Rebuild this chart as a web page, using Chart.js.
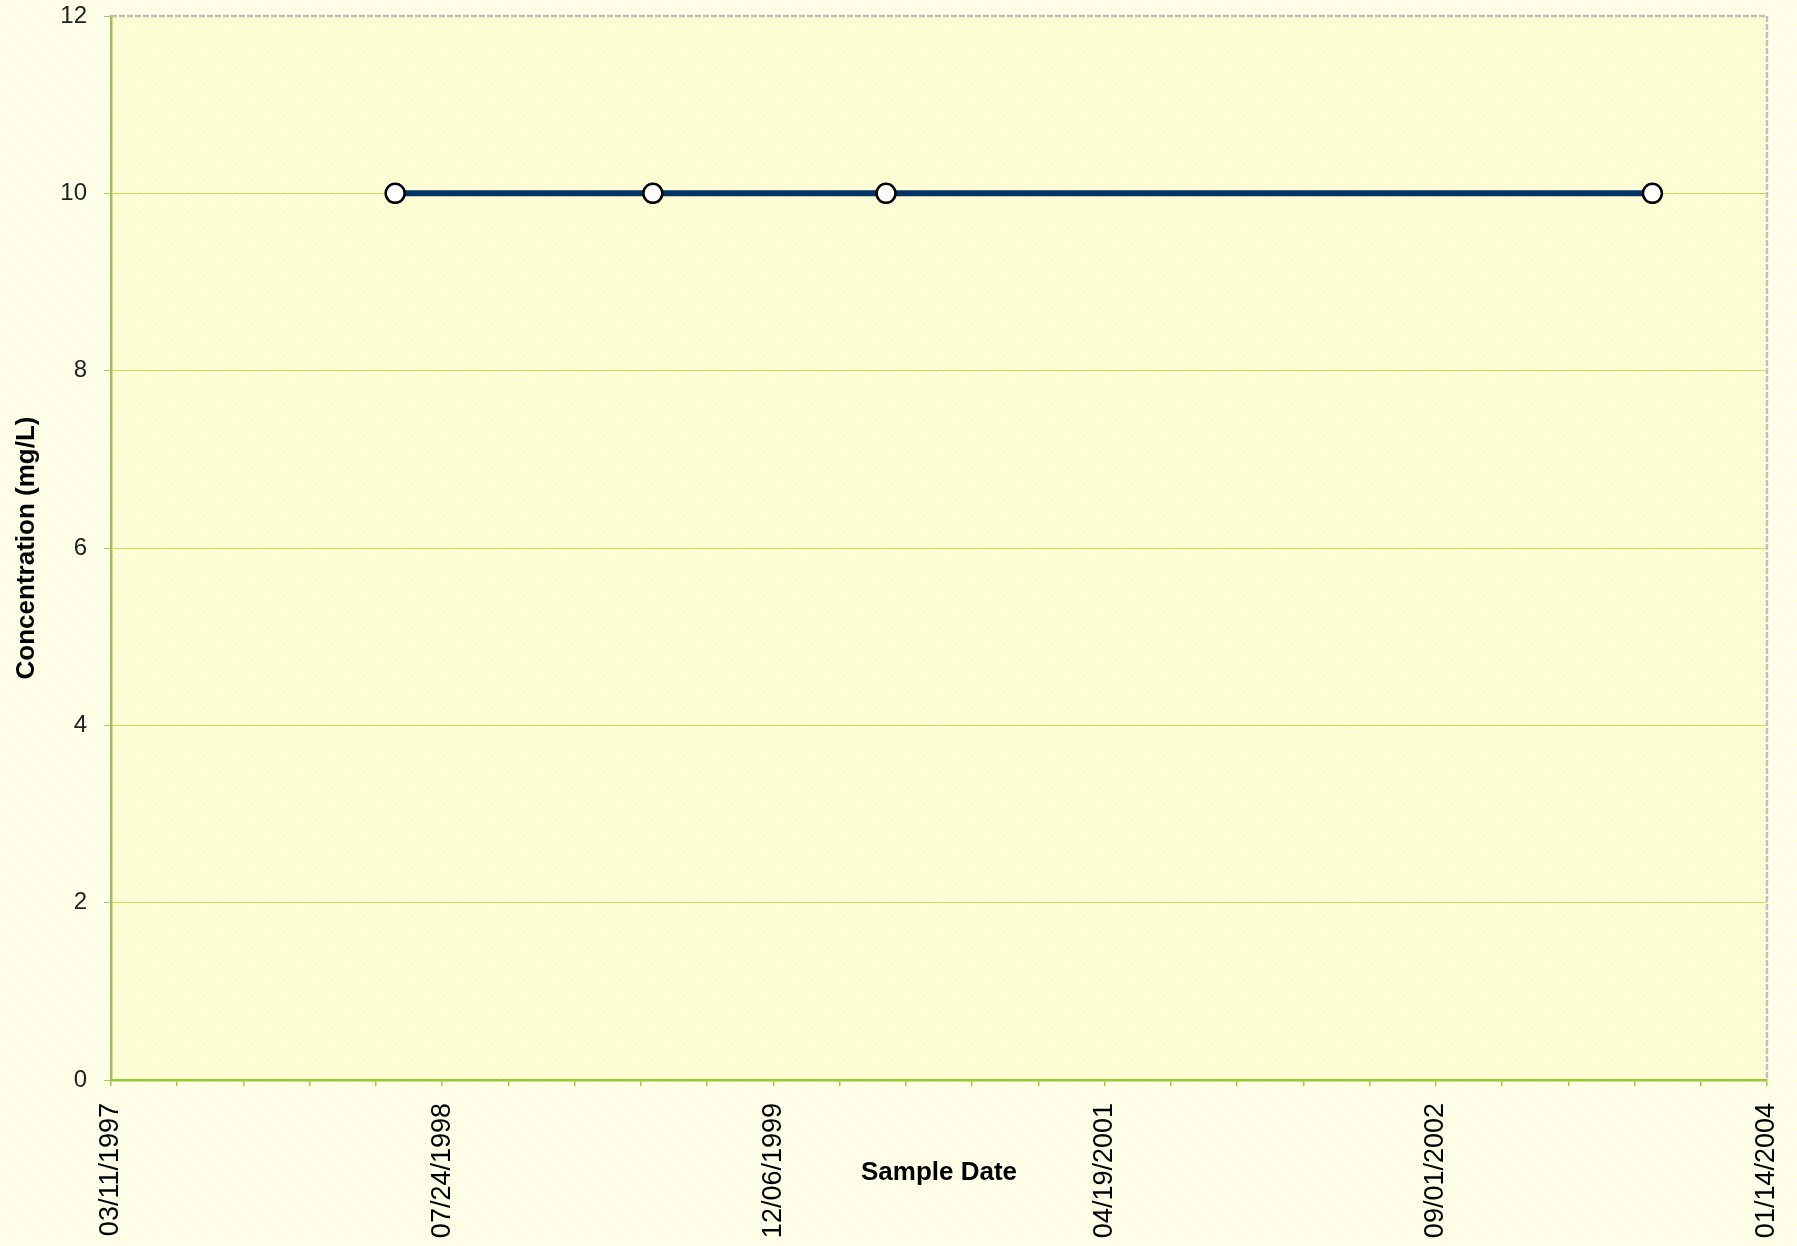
<!DOCTYPE html>
<html>
<head>
<meta charset="utf-8">
<script src="https://cdn.jsdelivr.net/npm/chart.js@4.4.1/dist/chart.umd.min.js"></script>
<style>
html,body{margin:0;padding:0;background:#FFFFF2;}
#wrap{width:1797px;height:1246px;position:relative;}
canvas{display:block;}
</style>
</head>
<body>
<div id="wrap"><canvas id="c" width="1797" height="1246"></canvas></div>
<script>
// ---- data ----
const sampleDates = ['05/14/1998', '06/07/1999', '05/24/2000', '07/25/2003'];
const concentrations = [10, 10, 10, 10];
const xTickLabels = ['03/11/1997', '07/24/1998', '12/06/1999', '04/19/2001', '09/01/2002', '01/14/2004'];
const yTicks = [0, 2, 4, 6, 8, 10, 12];
const xTitle = 'Sample Date';
const yTitle = 'Concentration (mg/L)';

function parseDate(s) {
  const [m, d, y] = s.split('/').map(Number);
  return Date.UTC(y, m - 1, d);
}
const origin = parseDate(xTickLabels[0]);
const dayMs = 86400000;
const toDays = s => Math.round((parseDate(s) - origin) / dayMs);
const xMax = toDays(xTickLabels[xTickLabels.length - 1]);
const majorStep = toDays(xTickLabels[1]);
const points = sampleDates.map((d, i) => ({x: toDays(d), y: concentrations[i]}));

function makePattern(base, stripe, n, w) {
  const c = document.createElement('canvas');
  c.width = n; c.height = n;
  const g = c.getContext('2d');
  const img = g.createImageData(n, n);
  for (let y = 0; y < n; y++) for (let x = 0; x < n; x++) {
    const k = ((x - y) % n + n) % n;
    const col = k < w ? stripe : base;
    const i = (y * n + x) * 4;
    img.data[i] = col[0]; img.data[i + 1] = col[1]; img.data[i + 2] = col[2]; img.data[i + 3] = 255;
  }
  g.putImageData(img, 0, 0);
  return c;
}

const bgPlugin = {
  id: 'bgPlugin',
  beforeDraw(chart) {
    const {ctx, chartArea: a} = chart;
    ctx.save();
    ctx.fillStyle = ctx.createPattern(makePattern([255, 255, 242], [255, 255, 214], 6, 2), 'repeat');
    ctx.fillRect(0, 0, chart.width, chart.height);
    ctx.fillStyle = ctx.createPattern(makePattern([255, 255, 232], [255, 255, 176], 6, 2), 'repeat');
    ctx.fillRect(a.left, a.top, a.right - a.left, a.bottom - a.top);
    ctx.restore();
  },
  beforeDatasetsDraw(chart) {
    const {ctx, chartArea: a} = chart;
    ctx.save();
    ctx.strokeStyle = '#C0C0C0';
    ctx.lineWidth = 2.5;
    ctx.setLineDash([6, 2]);
    ctx.beginPath();
    ctx.moveTo(a.left, a.top);
    ctx.lineTo(a.right, a.top);
    ctx.lineTo(a.right, a.bottom);
    ctx.stroke();
    ctx.restore();
  }
};

new Chart(document.getElementById('c'), {
  type: 'line',
  data: {
    datasets: [{
      data: points,
      borderColor: '#003366',
      borderWidth: 6,
      pointRadius: 9.5,
      pointHoverRadius: 9.5,
      pointBackgroundColor: '#FFFFFF',
      pointBorderColor: '#000000',
      pointBorderWidth: 2.5,
      tension: 0,
      fill: false
    }]
  },
  options: {
    responsive: false,
    animation: false,
    events: [],
    layout: {padding: {left: 0, top: 16, right: 30, bottom: 0}},
    plugins: {legend: {display: false}, tooltip: {enabled: false}},
    scales: {
      x: {
        type: 'linear',
        min: 0,
        max: xMax,
        afterFit(s) { s.height = 166; s.paddingLeft = 0; s.paddingRight = 0; },
        afterBuildTicks(s) {
          const t = [];
          for (let v = 0; v <= xMax; v += 100) t.push({value: v});
          s.ticks = t;
        },
        ticks: {
          autoSkip: false,
          minRotation: 90,
          maxRotation: 90,
          padding: 17,
          color: '#000000',
          font: {family: '"Liberation Sans", Arial, sans-serif', size: 27},
          callback(v) { return v % majorStep === 0 ? xTickLabels[v / majorStep] : ''; }
        },
        grid: {drawOnChartArea: false, drawTicks: true, tickLength: 6, color: '#99CC33', lineWidth: 1.5},
        border: {color: '#99CC33', width: 2.5},
        title: {
          display: true, text: xTitle, color: '#000000',
          font: {family: '"Liberation Sans", Arial, sans-serif', size: 26, weight: 'bold'},
          padding: {top: 0, bottom: 58}
        }
      },
      y: {
        min: 0,
        max: 12,
        afterFit(s) { s.width = 111; s.paddingTop = 0; s.paddingBottom = 0; },
        afterBuildTicks(s) { s.ticks = yTicks.map(v => ({value: v})); },
        ticks: {
          padding: 17,
          color: '#222222',
          font: {family: '"Liberation Sans", Arial, sans-serif', size: 24}
        },
        grid: {
          drawTicks: true,
          tickLength: 7,
          color: ctx => (ctx.tick && (ctx.tick.value === 0 || ctx.tick.value === 12)) ? 'rgba(0,0,0,0)' : '#C8E060',
          tickColor: '#A8C860',
          lineWidth: 1,
          borderDash: [3, 2]
        },
        border: {color: '#9DBE5A', width: 2.5, dash: []},
        title: {
          display: true, text: yTitle, color: '#000000',
          font: {family: '"Liberation Sans", Arial, sans-serif', size: 26, weight: 'bold'},
          padding: {top: 11, bottom: 0}
        }
      }
    }
  },
  plugins: [bgPlugin]
});
</script>
</body>
</html>
